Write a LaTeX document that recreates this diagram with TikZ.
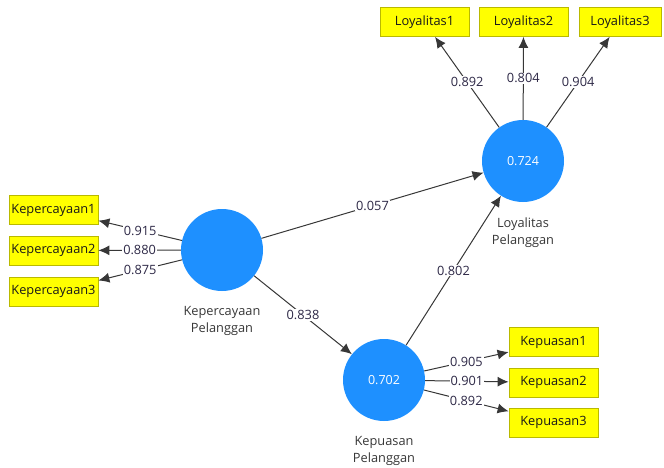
\documentclass[tikz,border=0pt]{standalone}
\usepackage{fontspec}
\setmainfont{Open Sans}
\usetikzlibrary{arrows.meta,positioning}
\definecolor{LatentClr}{RGB}{30,144,255}
\definecolor{IndicatorClr}{RGB}{255,255,0}
\definecolor{IndicatorLine}{RGB}{185,185,0}
\definecolor{PathClr}{RGB}{55,55,55}
\definecolor{CoefClr}{RGB}{45,40,70}

\begin{document}
\begin{tikzpicture}[x=1pt,y=-1pt,
  latent/.style={circle,fill=LatentClr,minimum size=82pt,inner sep=0pt,text=white,font=\fontsize{12.5}{14}\selectfont},
  indicator/.style={draw=IndicatorLine,line width=0.8pt,fill=IndicatorClr,minimum width=89pt,minimum height=29pt,inner sep=0pt,text=black!90,font=\fontsize{12.8}{14}\selectfont},
  lvtext/.style={align=center,inner sep=0pt,text=PathClr,font=\fontsize{12.8}{17}\selectfont},
  loading/.style={draw=PathClr,line width=1pt,-{Latex[length=11pt,width=10pt]}},
  coef/.style={fill=white,inner sep=1pt,text=CoefClr,font=\fontsize{12.8}{14}\selectfont}]
\useasboundingbox (0,0) rectangle (664,468);

\node[latent] (kp) at (222,250) {};
\node[latent] (lp) at (523,161) {0.724};
\node[latent] (ks) at (384,380) {0.702};

\node[lvtext,below=15pt of kp] (kplab) {Kepercayaan\\Pelanggan};
\node[lvtext,below=15pt of lp] (lplab) {Loyalitas\\Pelanggan};
\node[lvtext,below=15pt of ks] (kslab) {Kepuasan\\Pelanggan};

\node[indicator] (kp1) at (53.5,210) {Kepercayaan1};
\node[indicator] (kp2) at (53.5,250.5) {Kepercayaan2};
\node[indicator] (kp3) at (53.5,291.5) {Kepercayaan3};

\node[indicator] (lp1) at (424.5,22) {Loyalitas1};
\node[indicator] (lp2) at (523.5,22) {Loyalitas2};
\node[indicator,minimum width=82pt] (lp3) at (620,22) {Loyalitas3};

\node[indicator] (ks1) at (553.5,342) {Kepuasan1};
\node[indicator] (ks2) at (553.5,382.5) {Kepuasan2};
\node[indicator] (ks3) at (553.5,422.5) {Kepuasan3};

\draw[loading] (kp) -- node[coef] (c1) {0.915} (kp1);
\draw[loading] (kp) -- node[coef] (c2) {0.880} (kp2);
\draw[loading] (kp) -- node[coef] (c3) {0.875} (kp3);

\draw[loading] (lp) -- node[coef] (c4) {0.892} (lp1);
\draw[loading] (lp) -- node[coef] (c5) {0.804} (lp2);
\draw[loading] (lp) -- node[coef] (c6) {0.904} (lp3);

\draw[loading] (ks) -- node[coef] (c7) {0.905} (ks1);
\draw[loading] (ks) -- node[coef] (c8) {0.901} (ks2);
\draw[loading] (ks) -- node[coef] (c9) {0.892} (ks3);

\draw[loading] (kp) -- node[coef] (c10) {0.057} (lp);
\draw[loading] (kp) -- node[coef] (c11) {0.838} (ks);
\draw[loading] (ks) -- node[coef] (c12) {0.802} (lp);

\end{tikzpicture}
\end{document}
